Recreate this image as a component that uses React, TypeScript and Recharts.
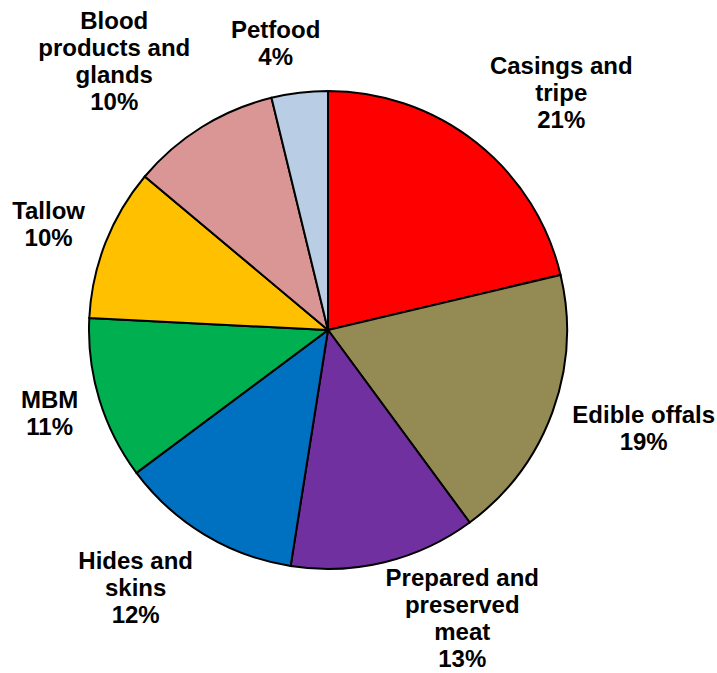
import { PieChart, Pie, Cell } from 'recharts';

// slice names (line breaks as in the original labels)
const categories = [
  'Casings and\ntripe',
  'Edible offals',
  'Prepared and\npreserved\nmeat',
  'Hides and\nskins',
  'MBM',
  'Tallow',
  'Blood\nproducts and\nglands',
  'Petfood',
];
// share of value, %
const shares = [21.3, 18.6, 12.6, 12.3, 11.0, 10.3, 10.1, 3.8];
const colors = ['#FF0000', '#948A54', '#7030A0', '#0070C0', '#00B050', '#FFC000', '#D99694', '#B9CDE5'];

const data = categories.map((name, i) => ({ name, value: shares[i] }));

const W = 717;
const H = 673;
const FONT = 24;
const LINE = 27;
const FONT_FAMILY = '"Liberation Sans", Arial, sans-serif';

let ctx: CanvasRenderingContext2D | null = null;
function textWidth(s: string) {
  if (!ctx) ctx = document.createElement('canvas').getContext('2d');
  if (!ctx) return s.length * FONT * 0.6;
  ctx.font = `bold ${FONT}px ${FONT_FAMILY}`;
  return ctx.measureText(s).width;
}

const clamp = (v: number, lo: number, hi: number) => Math.max(lo, Math.min(hi, v));

function renderLabel(props: any) {
  const { cx, cy, midAngle, outerRadius, percent, index } = props;
  const rad = (-midAngle * Math.PI) / 180;
  const cos = Math.cos(rad);
  const sin = Math.sin(rad);
  const lines = [...categories[index].split('\n'), `${Math.round(percent * 100)}%`];
  const w = Math.max(...lines.map(textWidth));
  const h = lines.length * LINE;
  const r = outerRadius + 22;
  // place the label box just outside the rim, like Excel's "outside end"
  let x = cx + r * cos + Math.sign(cos) * Math.min(1, Math.abs(cos) * 4) * (w / 2);
  let y = cy + r * sin + sin * (h / 2);
  x = clamp(x, w / 2 + 2, W - w / 2 - 2);
  y = clamp(y, h / 2, H - h / 2);
  const top = y - h / 2;
  return (
    <text
      key={`lbl-${index}`}
      textAnchor="middle"
      fontFamily={FONT_FAMILY}
      fontSize={FONT}
      fontWeight="bold"
      fill="#000"
    >
      {lines.map((l, i) => (
        <tspan key={i} x={x} y={top + i * LINE + 21}>
          {l}
        </tspan>
      ))}
    </text>
  );
}

export default function App() {
  return (
    <div style={{ position: 'absolute', left: 0, top: 0, width: W, height: H, background: '#fff' }}>
      <PieChart width={W} height={H} margin={{ top: 0, right: 0, bottom: 0, left: 0 }}>
        <Pie
          data={data}
          dataKey="value"
          nameKey="name"
          cx={328}
          cy={330}
          outerRadius={239}
          startAngle={90}
          endAngle={-270}
          stroke="#000"
          strokeWidth={2}
          label={renderLabel}
          labelLine={false}
          isAnimationActive={false}
        >
          {data.map((entry, index) => (
            <Cell key={`cell-${index}`} fill={colors[index]} />
          ))}
        </Pie>
      </PieChart>
    </div>
  );
}
